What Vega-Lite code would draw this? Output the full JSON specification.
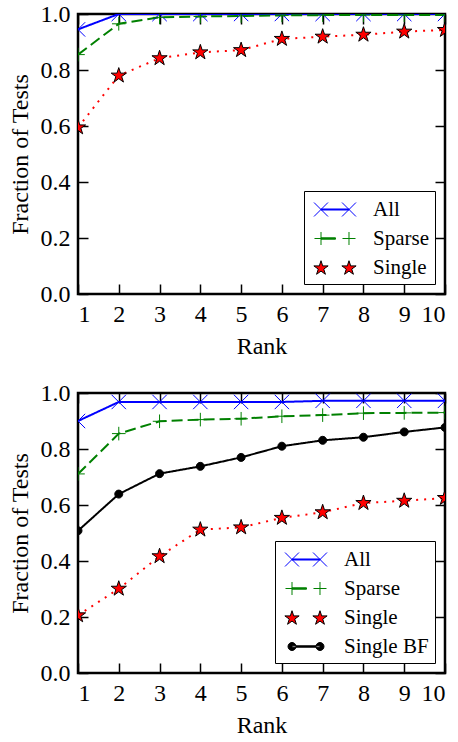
{
  "$schema": "https://vega.github.io/schema/vega-lite/v6.json",
  "padding": {"left": 6, "top": 0, "right": 0, "bottom": 0},
  "datasets": {
    "top": [
      {"series": "All", "rank": 1, "frac": 0.945},
      {"series": "All", "rank": 2, "frac": 1.0},
      {"series": "All", "rank": 3, "frac": 1.0},
      {"series": "All", "rank": 4, "frac": 1.0},
      {"series": "All", "rank": 5, "frac": 1.0},
      {"series": "All", "rank": 6, "frac": 1.0},
      {"series": "All", "rank": 7, "frac": 1.0},
      {"series": "All", "rank": 8, "frac": 1.0},
      {"series": "All", "rank": 9, "frac": 1.0},
      {"series": "All", "rank": 10, "frac": 1.0},
      {"series": "Sparse", "rank": 1, "frac": 0.855},
      {"series": "Sparse", "rank": 2, "frac": 0.965},
      {"series": "Sparse", "rank": 3, "frac": 0.988},
      {"series": "Sparse", "rank": 4, "frac": 0.991},
      {"series": "Sparse", "rank": 5, "frac": 0.993},
      {"series": "Sparse", "rank": 6, "frac": 0.995},
      {"series": "Sparse", "rank": 7, "frac": 0.996},
      {"series": "Sparse", "rank": 8, "frac": 0.996},
      {"series": "Sparse", "rank": 9, "frac": 0.996},
      {"series": "Sparse", "rank": 10, "frac": 0.996},
      {"series": "Single", "rank": 1, "frac": 0.595},
      {"series": "Single", "rank": 2, "frac": 0.78},
      {"series": "Single", "rank": 3, "frac": 0.842},
      {"series": "Single", "rank": 4, "frac": 0.863},
      {"series": "Single", "rank": 5, "frac": 0.871},
      {"series": "Single", "rank": 6, "frac": 0.911},
      {"series": "Single", "rank": 7, "frac": 0.919},
      {"series": "Single", "rank": 8, "frac": 0.926},
      {"series": "Single", "rank": 9, "frac": 0.937},
      {"series": "Single", "rank": 10, "frac": 0.943}
    ],
    "bottom": [
      {"series": "All", "rank": 1, "frac": 0.9},
      {"series": "All", "rank": 2, "frac": 0.968},
      {"series": "All", "rank": 3, "frac": 0.968},
      {"series": "All", "rank": 4, "frac": 0.968},
      {"series": "All", "rank": 5, "frac": 0.968},
      {"series": "All", "rank": 6, "frac": 0.968},
      {"series": "All", "rank": 7, "frac": 0.972},
      {"series": "All", "rank": 8, "frac": 0.972},
      {"series": "All", "rank": 9, "frac": 0.972},
      {"series": "All", "rank": 10, "frac": 0.972},
      {"series": "Sparse", "rank": 1, "frac": 0.711},
      {"series": "Sparse", "rank": 2, "frac": 0.855},
      {"series": "Sparse", "rank": 3, "frac": 0.899},
      {"series": "Sparse", "rank": 4, "frac": 0.905},
      {"series": "Sparse", "rank": 5, "frac": 0.908},
      {"series": "Sparse", "rank": 6, "frac": 0.917},
      {"series": "Sparse", "rank": 7, "frac": 0.921},
      {"series": "Sparse", "rank": 8, "frac": 0.928},
      {"series": "Sparse", "rank": 9, "frac": 0.929},
      {"series": "Sparse", "rank": 10, "frac": 0.93},
      {"series": "Single", "rank": 1, "frac": 0.206},
      {"series": "Single", "rank": 2, "frac": 0.301},
      {"series": "Single", "rank": 3, "frac": 0.417},
      {"series": "Single", "rank": 4, "frac": 0.512},
      {"series": "Single", "rank": 5, "frac": 0.52},
      {"series": "Single", "rank": 6, "frac": 0.554},
      {"series": "Single", "rank": 7, "frac": 0.574},
      {"series": "Single", "rank": 8, "frac": 0.607},
      {"series": "Single", "rank": 9, "frac": 0.615},
      {"series": "Single", "rank": 10, "frac": 0.625},
      {"series": "Single BF", "rank": 1, "frac": 0.508},
      {"series": "Single BF", "rank": 2, "frac": 0.639},
      {"series": "Single BF", "rank": 3, "frac": 0.712},
      {"series": "Single BF", "rank": 4, "frac": 0.738},
      {"series": "Single BF", "rank": 5, "frac": 0.77},
      {"series": "Single BF", "rank": 6, "frac": 0.81},
      {"series": "Single BF", "rank": 7, "frac": 0.831},
      {"series": "Single BF", "rank": 8, "frac": 0.842},
      {"series": "Single BF", "rank": 9, "frac": 0.861},
      {"series": "Single BF", "rank": 10, "frac": 0.877}
    ]
  },
  "spacing": 19,
  "resolve": {
    "scale": {"color": "independent", "shape": "independent", "fill": "independent", "stroke": "independent", "strokeDash": "independent", "opacity": "independent"},
    "legend": {"opacity": "independent", "color": "independent", "shape": "independent", "fill": "independent", "stroke": "independent", "strokeDash": "independent"}
  },
  "vconcat": [
    {
      "width": 367,
      "height": 280,
      "data": {"name": "top"},
      "resolve": {"axis": {"x": "independent", "y": "independent"}},
      "layer": [
        {
          "mark": {"type": "line", "clip": true, "strokeWidth": 2},
          "encoding": {
            "x": {"field": "rank", "type": "quantitative", "scale": {"domain": [1, 10], "nice": false, "zero": false},
                  "axis": {"orient": "bottom", "values": [1,2,3,4,5,6,7,8,9,10], "title": "Rank"}},
            "y": {"field": "frac", "type": "quantitative", "scale": {"domain": [0, 1], "nice": false},
                  "axis": {"orient": "left", "values": [0,0.2,0.4,0.6,0.8,1.0], "format": ".1f", "title": "Fraction of Tests"}},
            "color": {"field": "series", "type": "nominal",
                      "scale": {"domain": ["Single", "Sparse", "All"], "range": ["red", "green", "blue"]}, "legend": null},
            "strokeDash": {"field": "series", "type": "nominal",
                           "scale": {"domain": ["Single", "Sparse", "All"], "range": [[2, 6], [11, 5], [1, 0]]}, "legend": null}
          }
        },
        {
          "mark": {"type": "point", "clip": true, "size": 256, "strokeWidth": 1},
          "encoding": {
            "x": {"field": "rank", "type": "quantitative", "axis": {"orient": "top", "values": [1,2,3,4,5,6,7,8,9,10], "labels": false, "title": null}},
            "y": {"field": "frac", "type": "quantitative", "axis": {"orient": "right", "values": [0,0.2,0.4,0.6,0.8,1.0], "labels": false, "title": null}},
            "shape": {"field": "series", "type": "nominal",
                      "scale": {"domain": ["Single", "Sparse", "All"], "range": ["M0,-1L0.2245,-0.309L0.951,-0.309L0.363,0.118L0.588,0.809L0,0.382L-0.588,0.809L-0.363,0.118L-0.951,-0.309L-0.2245,-0.309Z", "M-0.85,0L0.85,0M0,-0.85L0,0.85", "M-0.9,-0.9L0.9,0.9M-0.9,0.9L0.9,-0.9"]},
                      "legend": null},
            "fill": {"field": "series", "type": "nominal",
                     "scale": {"domain": ["Single", "Sparse", "All"], "range": ["red", "transparent", "transparent"]}, "legend": null},
            "stroke": {"field": "series", "type": "nominal",
                       "scale": {"domain": ["Single", "Sparse", "All"], "range": ["black", "green", "blue"]}, "legend": null},
            "opacity": {"field": "series", "type": "nominal",
                        "scale": {"domain": ["All", "Sparse", "Single"], "range": [1, 1, 1]},
                        "legend": {"title": null, "orient": "bottom-right",
                          "symbolType": {"expr": "datum.value === 'All' ? 'M-0.708,-0.583L0.458,0.583M-0.708,0.583L0.458,-0.583M-0.125,-0.042L2.208,-0.042L2.208,0.042L-0.125,0.042ZM1.625,-0.583L2.791,0.583M1.625,0.583L2.791,-0.583' : datum.value === 'Sparse' ? 'M-0.667,0L0.417,0M-0.125,-0.542L-0.125,0.542M-0.125,-0.058L1.083,-0.058L1.083,0.058L-0.125,0.058ZM1.666,0L2.75,0M2.208,-0.542L2.208,0.542' : 'M-0.125,-0.565L0.015,-0.133L0.469,-0.133L0.102,0.134L0.243,0.566L-0.125,0.299L-0.493,0.566L-0.352,0.134L-0.719,-0.133L-0.265,-0.133ZM2.208,-0.565L2.348,-0.133L2.802,-0.133L2.435,0.134L2.576,0.566L2.208,0.299L1.84,0.566L1.981,0.134L1.614,-0.133L2.068,-0.133Z'"},
                          "symbolFillColor": {"expr": "datum.value === 'All' ? 'blue' : datum.value === 'Sparse' ? 'green' : 'red'"},
                          "symbolStrokeColor": {"expr": "datum.value === 'All' ? 'blue' : datum.value === 'Sparse' ? 'green' : 'black'"},
                          "symbolStrokeWidth": 1}}
          }
        }
      ]
    },
    {
      "width": 367,
      "height": 280,
      "data": {"name": "bottom"},
      "resolve": {"axis": {"x": "independent", "y": "independent"}},
      "layer": [
        {
          "mark": {"type": "line", "clip": true, "strokeWidth": 2},
          "encoding": {
            "x": {"field": "rank", "type": "quantitative", "scale": {"domain": [1, 10], "nice": false, "zero": false},
                  "axis": {"orient": "bottom", "values": [1,2,3,4,5,6,7,8,9,10], "title": "Rank"}},
            "y": {"field": "frac", "type": "quantitative", "scale": {"domain": [0, 1], "nice": false},
                  "axis": {"orient": "left", "values": [0,0.2,0.4,0.6,0.8,1.0], "format": ".1f", "title": "Fraction of Tests"}},
            "color": {"field": "series", "type": "nominal",
                      "scale": {"domain": ["Single BF", "Single", "Sparse", "All"], "range": ["black", "red", "green", "blue"]}, "legend": null},
            "strokeDash": {"field": "series", "type": "nominal",
                           "scale": {"domain": ["Single BF", "Single", "Sparse", "All"], "range": [[1, 0], [2, 6], [11, 5], [1, 0]]}, "legend": null}
          }
        },
        {
          "mark": {"type": "point", "clip": true, "size": 256, "strokeWidth": 1},
          "encoding": {
            "x": {"field": "rank", "type": "quantitative", "axis": {"orient": "top", "values": [1,2,3,4,5,6,7,8,9,10], "labels": false, "title": null}},
            "y": {"field": "frac", "type": "quantitative", "axis": {"orient": "right", "values": [0,0.2,0.4,0.6,0.8,1.0], "labels": false, "title": null}},
            "shape": {"field": "series", "type": "nominal",
                      "scale": {"domain": ["Single BF", "Single", "Sparse", "All"], "range": ["M-0.5,0A0.5,0.5 0 1,0 0.5,0A0.5,0.5 0 1,0 -0.5,0Z", "M0,-1L0.2245,-0.309L0.951,-0.309L0.363,0.118L0.588,0.809L0,0.382L-0.588,0.809L-0.363,0.118L-0.951,-0.309L-0.2245,-0.309Z", "M-0.85,0L0.85,0M0,-0.85L0,0.85", "M-0.9,-0.9L0.9,0.9M-0.9,0.9L0.9,-0.9"]},
                      "legend": null},
            "fill": {"field": "series", "type": "nominal",
                     "scale": {"domain": ["Single BF", "Single", "Sparse", "All"], "range": ["black", "red", "transparent", "transparent"]}, "legend": null},
            "stroke": {"field": "series", "type": "nominal",
                       "scale": {"domain": ["Single BF", "Single", "Sparse", "All"], "range": ["black", "black", "green", "blue"]}, "legend": null},
            "opacity": {"field": "series", "type": "nominal",
                        "scale": {"domain": ["All", "Sparse", "Single", "Single BF"], "range": [1, 1, 1, 1]},
                        "legend": {"title": null, "orient": "bottom-right",
                          "symbolType": {"expr": "datum.value === 'All' ? 'M-0.708,-0.583L0.458,0.583M-0.708,0.583L0.458,-0.583M-0.125,-0.042L2.208,-0.042L2.208,0.042L-0.125,0.042ZM1.625,-0.583L2.791,0.583M1.625,0.583L2.791,-0.583' : datum.value === 'Sparse' ? 'M-0.667,0L0.417,0M-0.125,-0.542L-0.125,0.542M-0.125,-0.058L1.083,-0.058L1.083,0.058L-0.125,0.058ZM1.666,0L2.75,0M2.208,-0.542L2.208,0.542' : datum.value === 'Single' ? 'M-0.125,-0.565L0.015,-0.133L0.469,-0.133L0.102,0.134L0.243,0.566L-0.125,0.299L-0.493,0.566L-0.352,0.134L-0.719,-0.133L-0.265,-0.133ZM2.208,-0.565L2.348,-0.133L2.802,-0.133L2.435,0.134L2.576,0.566L2.208,0.299L1.84,0.566L1.981,0.134L1.614,-0.133L2.068,-0.133Z' : 'M-0.458,0A0.333,0.333 0 1,0 0.208,0A0.333,0.333 0 1,0 -0.458,0ZM-0.125,-0.058L2.208,-0.058L2.208,0.058L-0.125,0.058ZM1.875,0A0.333,0.333 0 1,0 2.541,0A0.333,0.333 0 1,0 1.875,0Z'"},
                          "symbolFillColor": {"expr": "datum.value === 'All' ? 'blue' : datum.value === 'Sparse' ? 'green' : datum.value === 'Single' ? 'red' : 'black'"},
                          "symbolStrokeColor": {"expr": "datum.value === 'All' ? 'blue' : datum.value === 'Sparse' ? 'green' : 'black'"},
                          "symbolStrokeWidth": 1}}
          }
        }
      ]
    }
  ],
  "config": {
    "font": "Liberation Serif",
    "view": {"stroke": "black", "strokeWidth": 2.5},
    "axis": {
      "labelFont": "Liberation Serif", "titleFont": "Liberation Serif",
      "labelFontSize": 24, "titleFontSize": 24, "titleFontWeight": "normal",
      "labelColor": "black", "titleColor": "black",
      "grid": false, "domain": false,
      "tickColor": "black", "tickWidth": 1.5, "tickSize": -10,
      "labelPadding": 18, "titlePadding": 8
    },
    "legend": {
      "labelFont": "Liberation Serif", "labelFontSize": 21, "labelColor": "black",
      "strokeColor": "black", "fillColor": "white", "padding": 6, "offset": 10,
      "symbolSize": 576, "labelOffset": 38, "rowPadding": 6
    }
  }
}
